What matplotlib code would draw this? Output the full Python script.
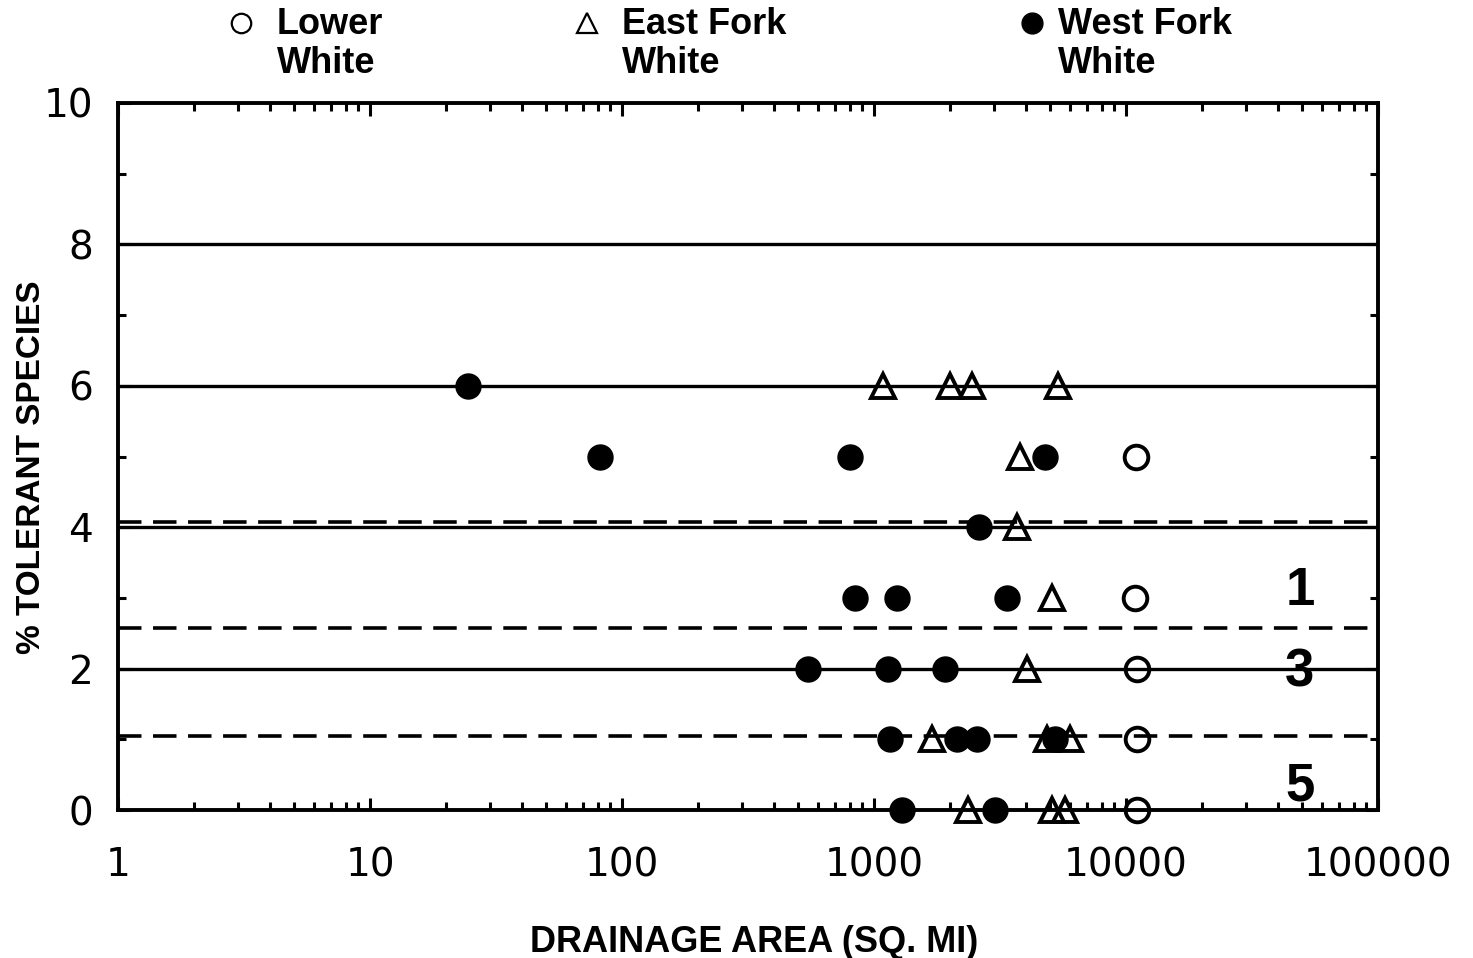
import numpy as np
import matplotlib
matplotlib.use('Agg')
import matplotlib.pyplot as plt
from matplotlib.lines import Line2D
from matplotlib.ticker import FixedLocator, NullFormatter

plt.rcParams['font.family'] = ['Liberation Sans', 'DejaVu Sans']

# Data (drainage area in sq. mi, % tolerant species)
lower_x = [10960, 10900, 11050, 11050, 11050]
lower_y = [5, 3, 2, 1, 0]

east_x = [1086, 2003, 2449, 5370, 3795, 3690, 5085, 4048, 1698, 4860, 5995, 2360, 5085, 5728]
east_y = [6, 6, 6, 6, 5, 4, 3, 2, 1, 1, 1, 0, 0, 0]

west_x = [24.5, 82, 803, 4770, 2610, 841, 1233, 3370, 547, 1136, 1914, 1157, 2134, 2564, 5230, 1291, 3020]
west_y = [6, 5, 5, 5, 4, 3, 3, 3, 2, 2, 2, 1, 1, 1, 1, 0, 0]

solid_lines = [2, 4, 6, 8]
dashed_lines = [4.08, 2.57, 1.05]

region_labels = ['1', '3', '5']
region_y = [3.1, 1.95, 0.33]
region_x = 49000

xticks = [1, 10, 100, 1000, 10000, 100000]
xtick_labels = ['1', '10', '100', '1000', '10000', '100000']
yticks = [0, 2, 4, 6, 8, 10]

legend_labels = ['Lower\nWhite', 'East Fork\nWhite', 'West Fork\nWhite']

fig = plt.figure(figsize=(14.73, 9.58), dpi=100)
ax = fig.add_axes([118 / 1473, 1 - 810 / 958, 1260 / 1473, 707 / 958])

ax.set_xscale('log')
ax.set_xlim(1, 100000)
ax.set_ylim(0, 10)

# horizontal reference lines
for y in solid_lines:
    ax.axhline(y, color='black', lw=2.4, zorder=2)
for y in dashed_lines:
    ax.axhline(y, color='black', lw=2.6, dashes=(6.5, 3.2), zorder=2)

# data points
ax.plot(lower_x, lower_y, 'o', ms=17, mfc='none', mec='black', mew=2.8, zorder=4, clip_on=False)
ax.plot(east_x, east_y, '^', ms=17, mfc='none', mec='black', mew=2.8, zorder=4, clip_on=False)
ax.plot(west_x, west_y, 'o', ms=18, mfc='black', mec='black', zorder=5, clip_on=False)

for lab, y in zip(region_labels, region_y):
    ax.text(region_x, y, lab, fontsize=38, fontweight='bold', ha='center', va='center', zorder=6)

# axes styling
for sp in ax.spines.values():
    sp.set_linewidth(2.8)

ax.set_xticks(xticks)
ax.set_xticklabels(xtick_labels)
ax.xaxis.set_minor_locator(FixedLocator([m * 10 ** d for d in range(5) for m in range(2, 10)]))
ax.xaxis.set_minor_formatter(NullFormatter())
ax.set_yticks(yticks)
ax.set_yticklabels([str(v) for v in yticks])
ax.yaxis.set_minor_locator(FixedLocator([1, 3, 5, 7, 9]))

ax.tick_params(which='both', direction='in', top=True, right=True, width=2.2)
ax.tick_params(which='major', length=9)
ax.tick_params(which='minor', length=5.5)
ax.tick_params(axis='x', which='major', labelsize=28, pad=26)
ax.tick_params(axis='y', which='major', labelsize=28, pad=18)
for lbl in ax.get_xticklabels() + ax.get_yticklabels():
    lbl.set_family('DejaVu Sans')

ax.set_xlabel('DRAINAGE AREA (SQ. MI)', fontsize=26, fontweight='bold')
ax.xaxis.set_label_coords(0.505, -0.163)
ax.set_ylabel('% TOLERANT SPECIES', fontsize=24, fontweight='bold')
ax.yaxis.set_label_coords(-0.056, 0.485)

# legend across the top
leg_marker_x = [241, 587, 1032]
leg_text_x = [277, 622, 1058]
leg_styles = [dict(marker='o', mfc='none', mec='black', mew=1.6, ms=14),
              dict(marker='^', mfc='none', mec='black', mew=1.6, ms=14),
              dict(marker='o', mfc='black', mec='black', ms=15)]
for mx, tx, lab, st in zip(leg_marker_x, leg_text_x, legend_labels, leg_styles):
    fig.add_artist(Line2D([mx / 1473], [1 - 23 / 958], transform=fig.transFigure, ls='none', **st))
    fig.text(tx / 1473, 1 - 7 / 958, lab, fontsize=26, fontweight='bold', ha='left', va='top',
             linespacing=1.13)

fig.savefig('out.png', dpi=100)
